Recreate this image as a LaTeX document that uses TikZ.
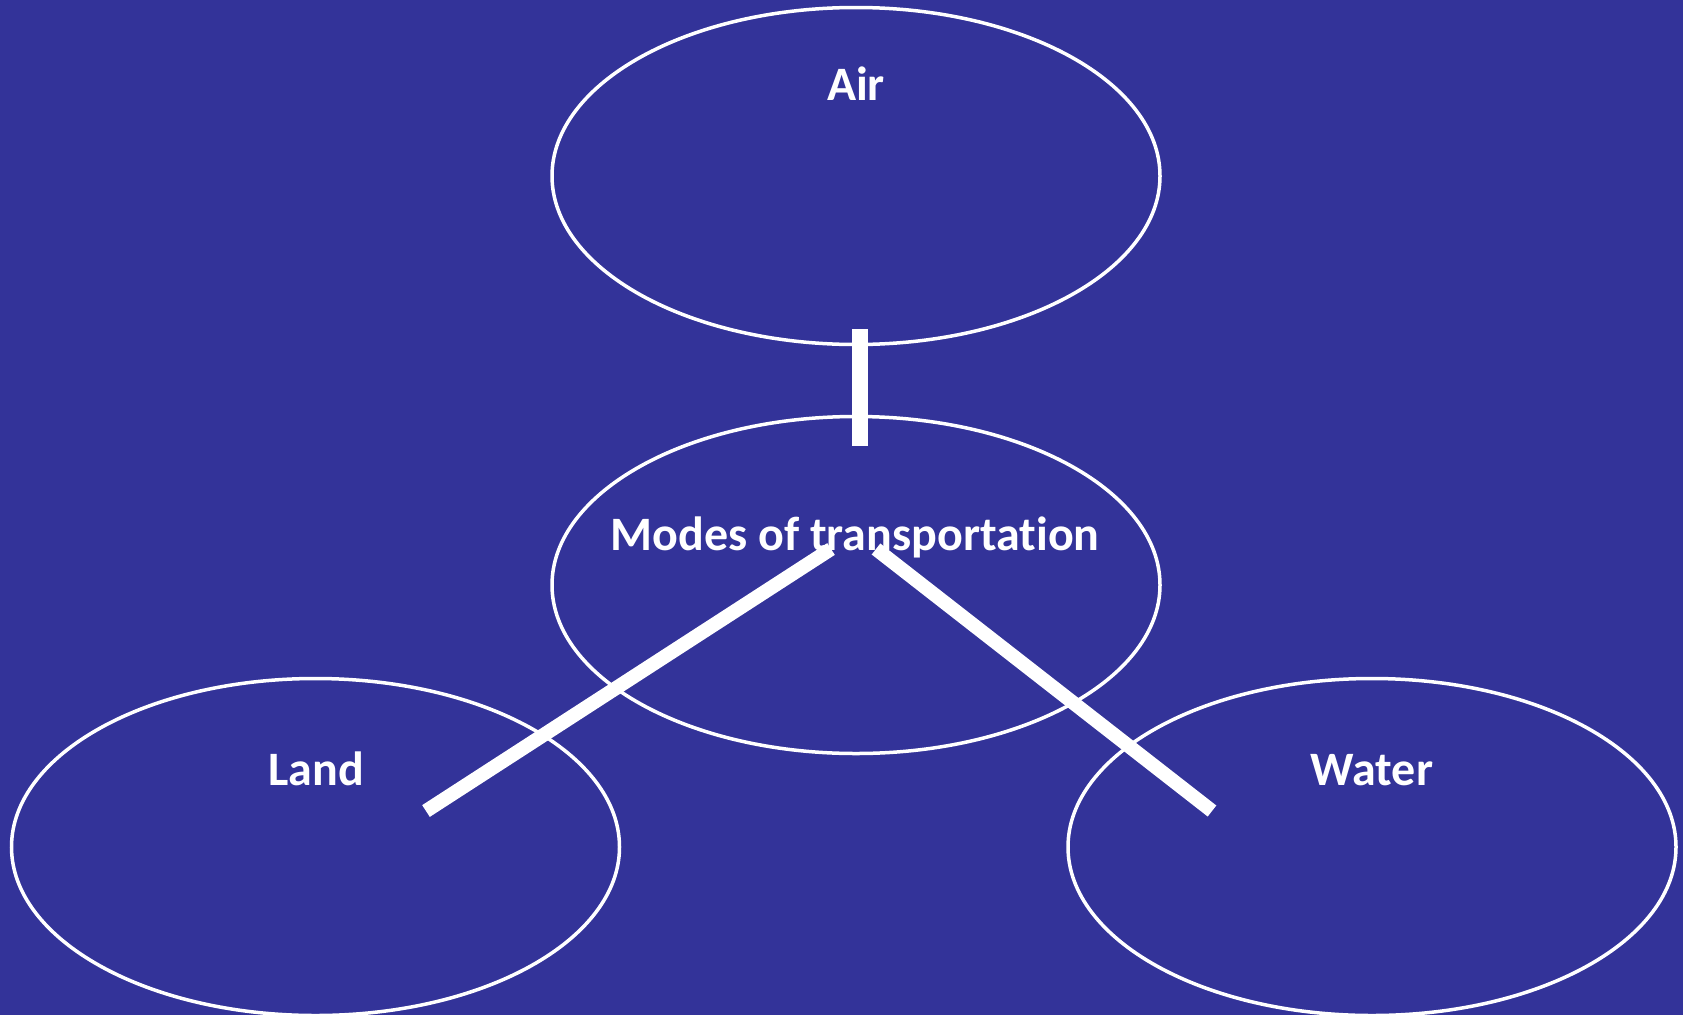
\documentclass[tikz,border=0pt]{standalone}
\usepackage{fontspec}
\setmainfont{Carlito}[Ligatures=NoCommon]
\usetikzlibrary{shapes.geometric}
\definecolor{bgblue}{RGB}{51,51,153}
\tikzset{
  mode/.style={ellipse,draw=white,line width=3.5pt,minimum width=608pt,minimum height=337pt,inner sep=0pt},
  modetext/.style={anchor=base,text=white,font=\fontsize{48}{56}\selectfont\bfseries,inner sep=0pt},
  link/.style={white,line width=14pt},
}
\begin{document}
\begin{tikzpicture}[x=1pt,y=-1pt]
\fill[bgblue] (0,0) rectangle (1683,1015);
\useasboundingbox (0,0) rectangle (1683,1015);
% Ellipses
\node[mode] (air)   at (856,176)  {};
\node[mode] (modes) at (856,585)  {};
\node[mode] (land)  at (315.5,847) {};
\node[mode] (water) at (1372,847) {};
% Texts
\node[modetext] (airtext)   at (856,100)  {Air};
\node[modetext] (modestext) at (855,550)  {Modes of transportation};
\node[modetext] (landtext)  at (316,785)  {Land};
\node[modetext] (watertext) at (1372,785) {Water};
% Connector ends
\coordinate (airtop)    at (860,329);
\coordinate (airbot)    at (860,446);
\coordinate (landtop)   at (831,549);
\coordinate (landend)   at (426,811);
\coordinate (watertop)  at (876,549);
\coordinate (waterend)  at (1212,811);
% Connectors
\draw[link,line width=16pt] (airtop) -- (airbot);
\draw[link] (landtop) -- (landend);
\draw[link] (watertop) -- (waterend);
\end{tikzpicture}
\end{document}
